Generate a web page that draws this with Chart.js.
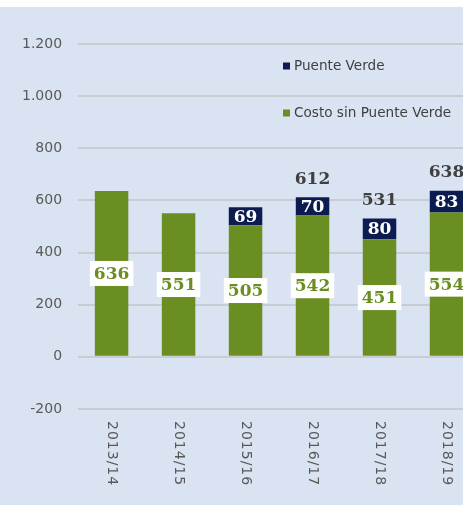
<!DOCTYPE html>
<html>
<head>
<meta charset="utf-8">
<script src="https://cdn.jsdelivr.net/npm/chart.js@4.4.1/dist/chart.umd.min.js"></script>
<style>
  html, body { margin: 0; padding: 0; background: #ffffff; overflow: hidden; }
  #wrap { position: absolute; left: 0; top: 7px; width: 484px; height: 498px; background: #dae3f2; }
</style>
</head>
<body>
<div id="wrap"><canvas id="chart" width="484" height="498"></canvas></div>
<script>
const categories = ['2013/14', '2014/15', '2015/16', '2016/17', '2017/18', '2018/19'];
const costoSinPuente = [636, 551, 505, 542, 451, 554];
const puenteVerde = [0, 0, 69, 70, 80, 83];
const totalLabels = [null, null, null, 612, 531, 638];

const GREEN = '#6b8e23';
const NAVY = '#0c1c50';
const LABEL_FONT = 'bold 17px "DejaVu Serif"';

// Data labels, rotated category labels and the inside legend
const drawExtras = {
    id: 'drawExtras',
    afterDatasetsDraw(chart) {
        const ctx = chart.ctx;
        const greenMeta = chart.getDatasetMeta(0);
        const navyMeta = chart.getDatasetMeta(1);
        ctx.save();
        ctx.font = LABEL_FONT;
        ctx.textAlign = 'center';
        ctx.textBaseline = 'middle';

        greenMeta.data.forEach((bar, i) => {
            const cy = (bar.y + bar.base) / 2;
            const txt = String(costoSinPuente[i]);
            const w = ctx.measureText(txt).width + 8;
            ctx.fillStyle = '#ffffff';
            ctx.fillRect(bar.x - w / 2, cy - 12.5, w, 25);
            ctx.fillStyle = GREEN;
            ctx.fillText(txt, bar.x, cy + 1);
        });

        navyMeta.data.forEach((bar, i) => {
            if (!puenteVerde[i]) return;
            const cy = (bar.y + bar.base) / 2;
            ctx.fillStyle = '#ffffff';
            ctx.fillText(String(puenteVerde[i]), bar.x, cy + 1);
        });

        navyMeta.data.forEach((bar, i) => {
            if (totalLabels[i] == null) return;
            ctx.fillStyle = '#404040';
            ctx.fillText(String(totalLabels[i]), bar.x, bar.y - 18);
        });

        // category labels, turned clockwise
        const xScale = chart.scales.x;
        ctx.font = '14px "DejaVu Sans"';
        ctx.letterSpacing = '1px';
        ctx.fillStyle = '#595959';
        ctx.textAlign = 'left';
        ctx.textBaseline = 'middle';
        categories.forEach((c, i) => {
            const x = xScale.getPixelForValue(i);
            ctx.save();
            ctx.translate(x, chart.chartArea.bottom + 12);
            ctx.rotate(Math.PI / 2);
            ctx.fillText(c, 0, 0);
            ctx.restore();
        });
        ctx.letterSpacing = '0px';

        // legend (Excel lists the top series first)
        ctx.font = '13.6px "DejaVu Sans"';
        const items = [
            { label: chart.data.datasets[1].label, color: NAVY, y: 59 },
            { label: chart.data.datasets[0].label, color: GREEN, y: 106 }
        ];
        items.forEach(it => {
            ctx.fillStyle = it.color;
            ctx.fillRect(283, it.y - 3.5, 7, 7);
            ctx.fillStyle = '#404040';
            ctx.fillText(it.label, 294, it.y);
        });
        ctx.restore();
    }
};

new Chart(document.getElementById('chart').getContext('2d'), {
    type: 'bar',
    data: {
        labels: categories,
        datasets: [{
            label: 'Costo sin Puente Verde',
            data: costoSinPuente,
            backgroundColor: GREEN,
            categoryPercentage: 1,
            barPercentage: 0.5
        }, {
            label: 'Puente Verde',
            data: puenteVerde,
            backgroundColor: NAVY,
            categoryPercentage: 1,
            barPercentage: 0.5
        }]
    },
    options: {
        responsive: false,
        animation: false,
        layout: {
            padding: { top: 37, bottom: 88, left: 6, right: 4 }
        },
        plugins: {
            legend: { display: false },
            tooltip: { enabled: false }
        },
        scales: {
            x: {
                stacked: true,
                grid: { display: false },
                border: { display: false },
                ticks: { display: false }
            },
            y: {
                stacked: true,
                min: -200,
                max: 1200,
                grid: { color: '#c8ccd3', lineWidth: 2, drawTicks: false },
                border: { display: false },
                ticks: {
                    stepSize: 200,
                    padding: 16,
                    color: '#595959',
                    font: { family: 'DejaVu Sans', size: 14 },
                    callback: v => String(v).replace(/\B(?=(\d{3})+(?!\d))/g, '.')
                }
            }
        }
    },
    plugins: [drawExtras]
});
</script>
</body>
</html>
